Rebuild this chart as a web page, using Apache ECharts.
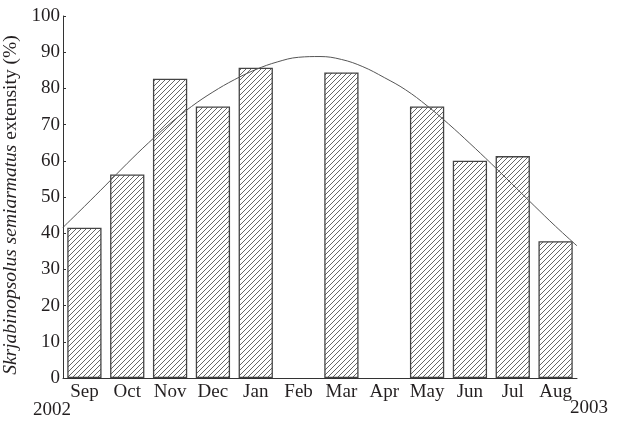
<!DOCTYPE html>
<html>
<head>
<meta charset="utf-8">
<script src="https://cdn.jsdelivr.net/npm/echarts@6/dist/echarts.min.js"></script>
<style>
  html, body { margin: 0; padding: 0; background: #fff; }
  #chart { width: 617px; height: 421px; }
</style>
</head>
<body>
<div id="chart"></div>
<script>
// months, Sep 2002 .. Aug 2003
const months = ['Sep', 'Oct', 'Nov', 'Dec', 'Jan', 'Feb', 'Mar', 'Apr', 'May', 'Jun', 'Jul', 'Aug']
// extensity (%), Feb and Apr have no bar
const extensity = [41.5, 56.2, 82.7, 75.0, 85.7, null, 84.4, null, 75.0, 60.0, 61.3, 37.8]
// fitted curve, every half month slot (0 = left edge of Sep, 12 = right edge of Aug)
const curveX = [0, 0.5, 1, 1.5, 2, 2.5, 3, 3.5, 4, 4.5, 5, 5.5, 6, 6.5, 7, 7.5, 8, 8.5, 9, 9.5, 10, 10.5, 11, 11.5, 12]
const curveY = [41.6, 47.4, 53.3, 59.3, 65.0, 70.3, 75.0, 79.0, 82.4, 85.2, 87.3, 88.6, 88.8, 88.0, 86.0, 83.0, 79.6, 75.2, 70.2, 64.8, 59.2, 53.4, 47.6, 41.9, 36.5]
const yTicks = [0, 10, 20, 30, 40, 50, 60, 70, 80, 90, 100]

const font = '"Liberation Serif", "DejaVu Serif", serif'
const ink = '#231f20'

// hatch tile for the bars
const makeHatch = () => {
  const c = document.createElement('canvas')
  c.width = 5
  c.height = 5
  const ctx = c.getContext('2d')
  ctx.fillStyle = '#fff'
  ctx.fillRect(0, 0, 5, 5)
  ctx.strokeStyle = '#555'
  ctx.lineWidth = 0.9
  ctx.beginPath()
  ctx.moveTo(-1, 6); ctx.lineTo(6, -1)
  ctx.moveTo(-1, 1); ctx.lineTo(1, -1)
  ctx.moveTo(4, 6); ctx.lineTo(6, 4)
  ctx.stroke()
  return c
}

const chart = echarts.init(document.getElementById('chart'))

const option = {
  animation: false,
  grid: { left: 63, right: 40, top: 16, bottom: 43, containLabel: false, outerBoundsMode: 'none' },
  xAxis: [
    {
      type: 'category',
      data: months,
      axisLine: { lineStyle: { color: '#333', width: 1 } },
      axisTick: { inside: true, length: 3, lineStyle: { color: '#333' } },
      axisLabel: { color: ink, fontFamily: font, fontSize: 19, margin: 5, interval: 0, hideOverlap: false }
    },
    {
      type: 'value',
      min: 0,
      max: 12,
      show: false
    }
  ],
  yAxis: {
    type: 'value',
    min: yTicks[0],
    max: yTicks[yTicks.length - 1],
    interval: 10,
    name: '{i|Skrjabinopsolus semiarmatus} extensity (%)',
    nameLocation: 'middle',
    nameGap: 42,
    nameMoveOverlap: false,
    nameRotate: 90,
    nameTextStyle: {
      color: ink,
      fontFamily: font,
      fontSize: 19.5,
      padding: [0, 16, 0, 0],
      rich: {
        i: { fontStyle: 'italic', fontFamily: font, fontSize: 19.5, color: ink }
      }
    },
    splitLine: { show: false },
    axisLine: { show: true, lineStyle: { color: '#333', width: 1 } },
    axisTick: { show: true, inside: true, length: 3, lineStyle: { color: '#333' } },
    axisLabel: { color: ink, fontFamily: font, fontSize: 19, margin: 3 }
  },
  series: [
    {
      type: 'bar',
      data: extensity,
      barCategoryGap: '20%',
      itemStyle: {
        color: { image: makeHatch(), repeat: 'repeat' },
        borderColor: '#444',
        borderWidth: 1.3
      }
    },
    {
      type: 'line',
      xAxisIndex: 1,
      data: curveX.map((x, i) => [x, curveY[i]]),
      smooth: 0.4,
      symbol: 'none',
      lineStyle: { color: '#555', width: 1 }
    }
  ],
  graphic: [
    { type: 'text', left: 33, top: 401, style: { text: '2002', fontFamily: font, fontSize: 19, fill: ink } },
    { type: 'text', left: 570, top: 399, style: { text: '2003', fontFamily: font, fontSize: 19, fill: ink } }
  ]
}

chart.setOption(option)
</script>
</body>
</html>
